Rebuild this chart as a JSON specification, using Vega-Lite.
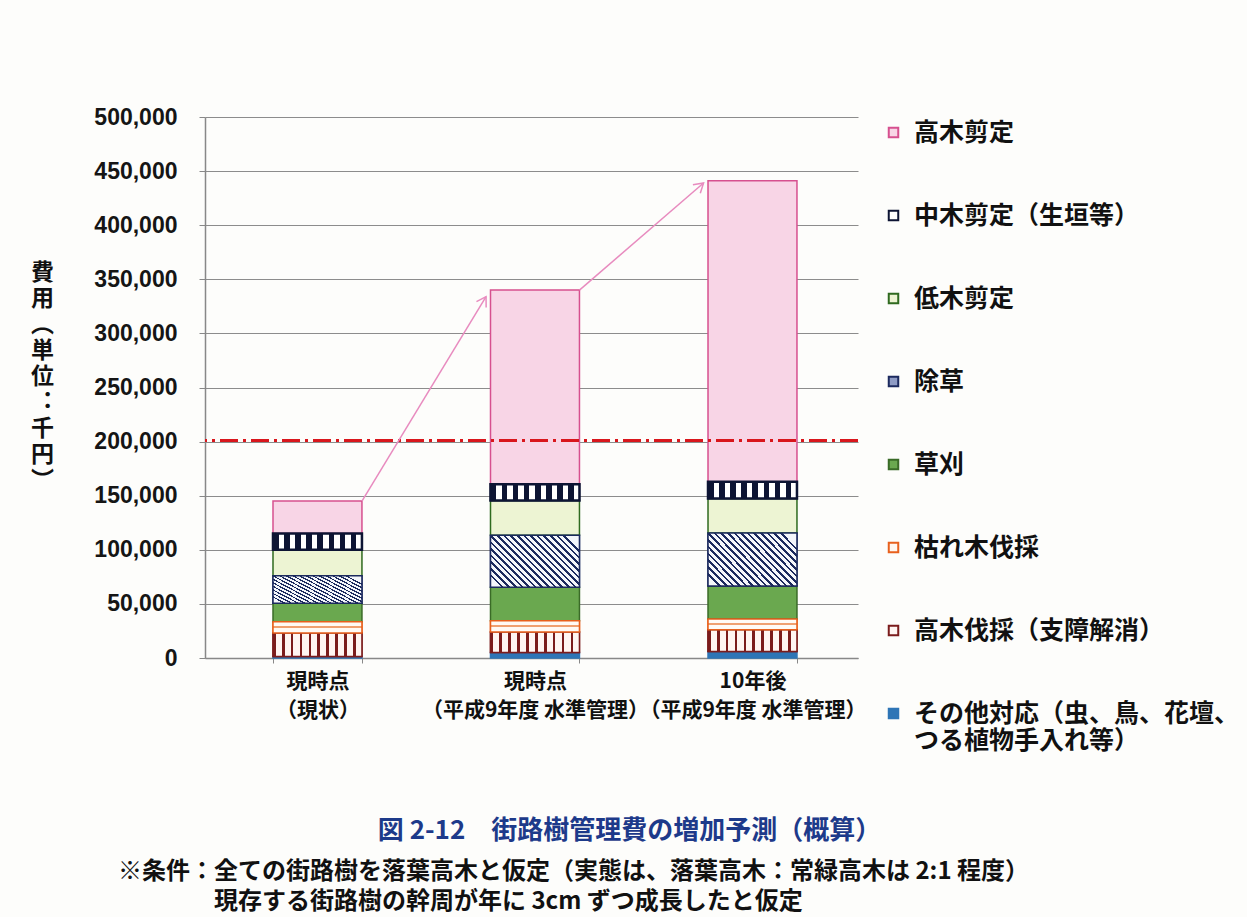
{
  "$schema": "https://vega.github.io/schema/vega-lite/v6.json",
  "width": 653,
  "height": 541,
  "autosize": {"type": "none"},
  "padding": {"left": 205, "top": 117, "right": 389, "bottom": 259},
  "background": "#fdfdfb",
  "config": {"view": {"stroke": null}},
  "title": {
    "text": ["※条件：全ての街路樹を落葉高木と仮定（実態は、落葉高木：常緑高木は 2:1 程度）", "\u200b　　　　現存する街路樹の幹周が年に 3cm ずつ成長したと仮定"],
    "orient": "bottom",
    "anchor": "start",
    "frame": "group",
    "dx": -87,
    "offset": 17,
    "font": "Noto Sans CJK JP",
    "fontSize": 24,
    "fontWeight": "bold",
    "color": "#111111",
    "lineHeight": 30,
    "baseline": "top"
  },
  "datasets": {
    "bars": [
      {"period": "現時点（現状）", "category": "その他対応（虫、鳥、花壇、つる植物手入れ等）", "order": 1, "value": 1500},
      {"period": "現時点（現状）", "category": "高木伐採（支障解消）", "order": 2, "value": 21500},
      {"period": "現時点（現状）", "category": "枯れ木伐採", "order": 3, "value": 10500},
      {"period": "現時点（現状）", "category": "草刈", "order": 4, "value": 17000},
      {"period": "現時点（現状）", "category": "除草", "order": 5, "value": 25500},
      {"period": "現時点（現状）", "category": "低木剪定", "order": 6, "value": 24000},
      {"period": "現時点（現状）", "category": "中木剪定（生垣等）", "order": 7, "value": 15000},
      {"period": "現時点（現状）", "category": "高木剪定", "order": 8, "value": 30000},
      {"period": "現時点（平成9年度 水準管理）", "category": "その他対応（虫、鳥、花壇、つる植物手入れ等）", "order": 1, "value": 5000},
      {"period": "現時点（平成9年度 水準管理）", "category": "高木伐採（支障解消）", "order": 2, "value": 19000},
      {"period": "現時点（平成9年度 水準管理）", "category": "枯れ木伐採", "order": 3, "value": 10500},
      {"period": "現時点（平成9年度 水準管理）", "category": "草刈", "order": 4, "value": 31000},
      {"period": "現時点（平成9年度 水準管理）", "category": "除草", "order": 5, "value": 48000},
      {"period": "現時点（平成9年度 水準管理）", "category": "低木剪定", "order": 6, "value": 32000},
      {"period": "現時点（平成9年度 水準管理）", "category": "中木剪定（生垣等）", "order": 7, "value": 15000},
      {"period": "現時点（平成9年度 水準管理）", "category": "高木剪定", "order": 8, "value": 179500},
      {"period": "10年後（平成9年度 水準管理）", "category": "その他対応（虫、鳥、花壇、つる植物手入れ等）", "order": 1, "value": 6000},
      {"period": "10年後（平成9年度 水準管理）", "category": "高木伐採（支障解消）", "order": 2, "value": 20000},
      {"period": "10年後（平成9年度 水準管理）", "category": "枯れ木伐採", "order": 3, "value": 10000},
      {"period": "10年後（平成9年度 水準管理）", "category": "草刈", "order": 4, "value": 30500},
      {"period": "10年後（平成9年度 水準管理）", "category": "除草", "order": 5, "value": 49000},
      {"period": "10年後（平成9年度 水準管理）", "category": "低木剪定", "order": 6, "value": 32000},
      {"period": "10年後（平成9年度 水準管理）", "category": "中木剪定（生垣等）", "order": 7, "value": 15500},
      {"period": "10年後（平成9年度 水準管理）", "category": "高木剪定", "order": 8, "value": 278000}
    ],
    "ref": [{"ref": 201000}],
    "arrows": [
      {"from": "現時点（現状）", "to": "現時点（平成9年度 水準管理）", "y_start": 145000, "y_end": 334000},
      {"from": "現時点（平成9年度 水準管理）", "to": "10年後（平成9年度 水準管理）", "y_start": 340000, "y_end": 439000}
    ]
  },
  "layer": [
    {
      "data": {"name": "bars"},
      "transform": [
        {"stack": "value", "groupby": ["period"], "sort": [{"field": "order", "order": "ascending"}], "as": ["v0", "v1"]}
      ],
      "layer": [
        {
          "mark": {"type": "bar", "strokeWidth": 1.5},
          "encoding": {
            "x": {
              "field": "period", "type": "nominal", "sort": null,
              "title": "図 2-12　街路樹管理費の増加予測（概算）",
              "scale": {"domain": ["現時点（現状）", "現時点（平成9年度 水準管理）", "10年後（平成9年度 水準管理）"], "paddingInner": 0.591, "paddingOuter": 0.2966, "align": 0.527},
              "axis": {
                "titleFont": "Noto Sans CJK JP", "titleFontSize": 26, "titleFontWeight": "bold", "titleColor": "#1d3a8a",
                "titleX": 424, "titleY": 172, "titleAlign": "center", "titleBaseline": "middle",
                "labelAngle": 0, "labelFont": "Noto Sans CJK JP", "labelFontSize": 21, "labelFontWeight": "bold", "labelColor": "#111111",
                "labelLineHeight": 29, "labelPadding": 7, "labelLimit": 400,
                "labelExpr": "split(replace(datum.label, '（', '\\n（'), '\\n')",
                "tickBand": "extent", "tickSize": 5, "tickColor": "#888888", "domainColor": "#888888", "domainWidth": 1.5
              }
            },
            "y": {
              "field": "v1", "type": "quantitative",
              "title": ["費", "用", "︵", "単", "位", "︓", "千", "円", "︶"],
              "scale": {"domain": [0, 500000], "nice": false},
              "axis": {
                "titleAngle": 0, "titleX": -163, "titleY": 155, "titleAlign": "center", "titleBaseline": "middle",
                "titleFont": "Noto Sans CJK JP", "titleFontSize": 23, "titleFontWeight": "bold", "titleLineHeight": 26, "titleColor": "#111111",
                "values": [0, 50000, 100000, 150000, 200000, 250000, 300000, 350000, 400000, 450000, 500000],
                "labelExpr": "format(datum.value, ',')",
                "labelFont": "Liberation Sans", "labelFontSize": 23, "labelFontWeight": "bold", "labelColor": "#151515", "labelPadding": 22,
                "tickSize": 6, "tickColor": "#888888", "domainColor": "#888888", "domainWidth": 1.5,
                "grid": true, "gridColor": "#8c8c8c", "gridWidth": 1.2
              }
            },
            "y2": {"field": "v0"},
            "fill": {
              "field": "category", "type": "nominal",
              "scale": {
                "domain": ["高木剪定", "中木剪定（生垣等）", "低木剪定", "除草", "草刈", "枯れ木伐採", "高木伐採（支障解消）", "その他対応（虫、鳥、花壇、つる植物手入れ等）"],
                "range": ["#f8d5e6", "#ffffff", "#edf4d3", "#8e9bc4", "#6aa84f", "#fff6ef", "#fff5f2", "#2e75b6"]
              },
              "legend": {
                "title": null, "orient": "none", "legendX": 676, "legendY": 3, "direction": "vertical",
                "symbolType": "square", "symbolSize": 90, "symbolStrokeWidth": 2,
                "labelFont": "Noto Sans CJK JP", "labelFontSize": 25, "labelFontWeight": "bold", "labelColor": "#111111",
                "labelLimit": 500, "rowPadding": 57, "labelOffset": 8, "padding": 0,
                "labelExpr": "datum.label == 'その他対応（虫、鳥、花壇、つる植物手入れ等）' ? ['その他対応（虫、鳥、花壇、', 'つる植物手入れ等）'] : datum.label"
              }
            },
            "stroke": {
              "field": "category", "type": "nominal",
              "scale": {
                "domain": ["高木剪定", "中木剪定（生垣等）", "低木剪定", "除草", "草刈", "枯れ木伐採", "高木伐採（支障解消）", "その他対応（虫、鳥、花壇、つる植物手入れ等）"],
                "range": ["#d6508f", "#0d1433", "#2f6a1f", "#1c2a5e", "#3a6b27", "#e8601c", "#7b1c1c", "#2e75b6"]
              },
              "legend": {
                "title": null, "orient": "none", "legendX": 676, "legendY": 3, "direction": "vertical",
                "symbolType": "square", "symbolSize": 90, "symbolStrokeWidth": 2,
                "labelFont": "Noto Sans CJK JP", "labelFontSize": 25, "labelFontWeight": "bold", "labelColor": "#111111",
                "labelLimit": 500, "rowPadding": 57, "labelOffset": 8, "padding": 0,
                "labelExpr": "datum.label == 'その他対応（虫、鳥、花壇、つる植物手入れ等）' ? ['その他対応（虫、鳥、花壇、', 'つる植物手入れ等）'] : datum.label"
              }
            }
          }
        },
        {
          "transform": [{"filter": "datum.category === '高木伐採（支障解消）'"}],
          "mark": {
            "type": "bar", "stroke": "#7b1c1c", "strokeWidth": 1.5,
            "fill": {"gradient": "linear", "x1": 0, "y1": 0, "x2": 1, "y2": 0, "stops": [
              {"offset": 0, "color": "#7b1c1c"}, {"offset": 0.03, "color": "#7b1c1c"}, {"offset": 0.03, "color": "#fff5f2"}, {"offset": 0.1, "color": "#fff5f2"},
              {"offset": 0.1, "color": "#7b1c1c"}, {"offset": 0.13, "color": "#7b1c1c"}, {"offset": 0.13, "color": "#fff5f2"}, {"offset": 0.2, "color": "#fff5f2"},
              {"offset": 0.2, "color": "#7b1c1c"}, {"offset": 0.23, "color": "#7b1c1c"}, {"offset": 0.23, "color": "#fff5f2"}, {"offset": 0.3, "color": "#fff5f2"},
              {"offset": 0.3, "color": "#7b1c1c"}, {"offset": 0.33, "color": "#7b1c1c"}, {"offset": 0.33, "color": "#fff5f2"}, {"offset": 0.4, "color": "#fff5f2"},
              {"offset": 0.4, "color": "#7b1c1c"}, {"offset": 0.43, "color": "#7b1c1c"}, {"offset": 0.43, "color": "#fff5f2"}, {"offset": 0.5, "color": "#fff5f2"},
              {"offset": 0.5, "color": "#7b1c1c"}, {"offset": 0.53, "color": "#7b1c1c"}, {"offset": 0.53, "color": "#fff5f2"}, {"offset": 0.6, "color": "#fff5f2"},
              {"offset": 0.6, "color": "#7b1c1c"}, {"offset": 0.63, "color": "#7b1c1c"}, {"offset": 0.63, "color": "#fff5f2"}, {"offset": 0.7, "color": "#fff5f2"},
              {"offset": 0.7, "color": "#7b1c1c"}, {"offset": 0.73, "color": "#7b1c1c"}, {"offset": 0.73, "color": "#fff5f2"}, {"offset": 0.8, "color": "#fff5f2"},
              {"offset": 0.8, "color": "#7b1c1c"}, {"offset": 0.83, "color": "#7b1c1c"}, {"offset": 0.83, "color": "#fff5f2"}, {"offset": 0.9, "color": "#fff5f2"},
              {"offset": 0.9, "color": "#7b1c1c"}, {"offset": 0.93, "color": "#7b1c1c"}, {"offset": 0.93, "color": "#fff5f2"}, {"offset": 1, "color": "#fff5f2"}
            ]}
          },
          "encoding": {
            "x": {"field": "period", "type": "nominal", "sort": null},
            "y": {"field": "v1", "type": "quantitative"},
            "y2": {"field": "v0"}
          }
        },
        {
          "transform": [{"filter": "datum.category === '枯れ木伐採'"}],
          "mark": {
            "type": "bar", "stroke": "#e8601c", "strokeWidth": 1.5,
            "fill": {"gradient": "linear", "x1": 0, "y1": 0, "x2": 0, "y2": 1, "stops": [
              {"offset": 0, "color": "#fffaf5"}, {"offset": 0.38, "color": "#fffaf5"}, {"offset": 0.38, "color": "#f0a070"},
              {"offset": 0.58, "color": "#f0a070"}, {"offset": 0.58, "color": "#fffaf5"}, {"offset": 1, "color": "#fffaf5"}
            ]}
          },
          "encoding": {
            "x": {"field": "period", "type": "nominal", "sort": null},
            "y": {"field": "v1", "type": "quantitative"},
            "y2": {"field": "v0"}
          }
        },
        {
          "transform": [{"filter": "datum.category === '除草'"}],
          "mark": {
            "type": "bar", "stroke": "#1c2a5e", "strokeWidth": 1.5,
            "fill": {"gradient": "linear", "x1": 0, "y1": 0.792, "x2": 1, "y2": 0.208, "stops": [
              {"offset": 0, "color": "#f4f6fb"},
              {"offset": 0, "color": "#1c2a5e"}, {"offset": 0.022, "color": "#1c2a5e"}, {"offset": 0.022, "color": "#f4f6fb"}, {"offset": 0.0556, "color": "#f4f6fb"},
              {"offset": 0.0556, "color": "#1c2a5e"}, {"offset": 0.0776, "color": "#1c2a5e"}, {"offset": 0.0776, "color": "#f4f6fb"}, {"offset": 0.1111, "color": "#f4f6fb"},
              {"offset": 0.1111, "color": "#1c2a5e"}, {"offset": 0.1331, "color": "#1c2a5e"}, {"offset": 0.1331, "color": "#f4f6fb"}, {"offset": 0.1667, "color": "#f4f6fb"},
              {"offset": 0.1667, "color": "#1c2a5e"}, {"offset": 0.1887, "color": "#1c2a5e"}, {"offset": 0.1887, "color": "#f4f6fb"}, {"offset": 0.2222, "color": "#f4f6fb"},
              {"offset": 0.2222, "color": "#1c2a5e"}, {"offset": 0.2442, "color": "#1c2a5e"}, {"offset": 0.2442, "color": "#f4f6fb"}, {"offset": 0.2778, "color": "#f4f6fb"},
              {"offset": 0.2778, "color": "#1c2a5e"}, {"offset": 0.2998, "color": "#1c2a5e"}, {"offset": 0.2998, "color": "#f4f6fb"}, {"offset": 0.3333, "color": "#f4f6fb"},
              {"offset": 0.3333, "color": "#1c2a5e"}, {"offset": 0.3553, "color": "#1c2a5e"}, {"offset": 0.3553, "color": "#f4f6fb"}, {"offset": 0.3889, "color": "#f4f6fb"},
              {"offset": 0.3889, "color": "#1c2a5e"}, {"offset": 0.4109, "color": "#1c2a5e"}, {"offset": 0.4109, "color": "#f4f6fb"}, {"offset": 0.4444, "color": "#f4f6fb"},
              {"offset": 0.4444, "color": "#1c2a5e"}, {"offset": 0.4664, "color": "#1c2a5e"}, {"offset": 0.4664, "color": "#f4f6fb"}, {"offset": 0.5, "color": "#f4f6fb"},
              {"offset": 0.5, "color": "#1c2a5e"}, {"offset": 0.522, "color": "#1c2a5e"}, {"offset": 0.522, "color": "#f4f6fb"}, {"offset": 0.5556, "color": "#f4f6fb"},
              {"offset": 0.5556, "color": "#1c2a5e"}, {"offset": 0.5776, "color": "#1c2a5e"}, {"offset": 0.5776, "color": "#f4f6fb"}, {"offset": 0.6111, "color": "#f4f6fb"},
              {"offset": 0.6111, "color": "#1c2a5e"}, {"offset": 0.6331, "color": "#1c2a5e"}, {"offset": 0.6331, "color": "#f4f6fb"}, {"offset": 0.6667, "color": "#f4f6fb"},
              {"offset": 0.6667, "color": "#1c2a5e"}, {"offset": 0.6887, "color": "#1c2a5e"}, {"offset": 0.6887, "color": "#f4f6fb"}, {"offset": 0.7222, "color": "#f4f6fb"},
              {"offset": 0.7222, "color": "#1c2a5e"}, {"offset": 0.7442, "color": "#1c2a5e"}, {"offset": 0.7442, "color": "#f4f6fb"}, {"offset": 0.7778, "color": "#f4f6fb"},
              {"offset": 0.7778, "color": "#1c2a5e"}, {"offset": 0.7998, "color": "#1c2a5e"}, {"offset": 0.7998, "color": "#f4f6fb"}, {"offset": 0.8333, "color": "#f4f6fb"},
              {"offset": 0.8333, "color": "#1c2a5e"}, {"offset": 0.8553, "color": "#1c2a5e"}, {"offset": 0.8553, "color": "#f4f6fb"}, {"offset": 0.8889, "color": "#f4f6fb"},
              {"offset": 0.8889, "color": "#1c2a5e"}, {"offset": 0.9109, "color": "#1c2a5e"}, {"offset": 0.9109, "color": "#f4f6fb"}, {"offset": 0.9444, "color": "#f4f6fb"},
              {"offset": 0.9444, "color": "#1c2a5e"}, {"offset": 0.9664, "color": "#1c2a5e"}, {"offset": 0.9664, "color": "#f4f6fb"}, {"offset": 1, "color": "#f4f6fb"}
            ]}
          },
          "encoding": {
            "x": {"field": "period", "type": "nominal", "sort": null},
            "y": {"field": "v1", "type": "quantitative"},
            "y2": {"field": "v0"}
          }
        },
        {
          "transform": [{"filter": "datum.category === '中木剪定（生垣等）'"}],
          "mark": {
            "type": "bar", "stroke": "#0d1433", "strokeWidth": 2.5,
            "fill": {"gradient": "linear", "x1": 0, "y1": 0, "x2": 1, "y2": 0, "stops": [
              {"offset": 0, "color": "#0d1433"}, {"offset": 0.0625, "color": "#0d1433"}, {"offset": 0.0625, "color": "#ffffff"}, {"offset": 0.125, "color": "#ffffff"},
              {"offset": 0.125, "color": "#0d1433"}, {"offset": 0.1875, "color": "#0d1433"}, {"offset": 0.1875, "color": "#ffffff"}, {"offset": 0.25, "color": "#ffffff"},
              {"offset": 0.25, "color": "#0d1433"}, {"offset": 0.3125, "color": "#0d1433"}, {"offset": 0.3125, "color": "#ffffff"}, {"offset": 0.375, "color": "#ffffff"},
              {"offset": 0.375, "color": "#0d1433"}, {"offset": 0.4375, "color": "#0d1433"}, {"offset": 0.4375, "color": "#ffffff"}, {"offset": 0.5, "color": "#ffffff"},
              {"offset": 0.5, "color": "#0d1433"}, {"offset": 0.5625, "color": "#0d1433"}, {"offset": 0.5625, "color": "#ffffff"}, {"offset": 0.625, "color": "#ffffff"},
              {"offset": 0.625, "color": "#0d1433"}, {"offset": 0.6875, "color": "#0d1433"}, {"offset": 0.6875, "color": "#ffffff"}, {"offset": 0.75, "color": "#ffffff"},
              {"offset": 0.75, "color": "#0d1433"}, {"offset": 0.8125, "color": "#0d1433"}, {"offset": 0.8125, "color": "#ffffff"}, {"offset": 0.875, "color": "#ffffff"},
              {"offset": 0.875, "color": "#0d1433"}, {"offset": 0.9375, "color": "#0d1433"}, {"offset": 0.9375, "color": "#ffffff"}, {"offset": 1, "color": "#ffffff"}
            ]}
          },
          "encoding": {
            "x": {"field": "period", "type": "nominal", "sort": null},
            "y": {"field": "v1", "type": "quantitative"},
            "y2": {"field": "v0"}
          }
        }
      ]
    },
    {
      "data": {"name": "ref"},
      "mark": {"type": "rule", "color": "#d9161c", "strokeWidth": 3, "strokeDash": [18, 5, 3, 5]},
      "encoding": {"y": {"field": "ref", "type": "quantitative"}}
    },
    {
      "data": {"name": "arrows"},
      "mark": {"type": "rule", "color": "#e88bbf", "strokeWidth": 1.5},
      "encoding": {
        "x": {"field": "from", "type": "nominal", "sort": null, "bandPosition": 1},
        "x2": {"field": "to", "bandPosition": -0.05},
        "y": {"field": "y_start", "type": "quantitative"},
        "y2": {"field": "y_end"}
      }
    },
    {
      "data": {"name": "arrows"},
      "transform": [{"filter": "datum.to === '現時点（平成9年度 水準管理）'"}],
      "mark": {"type": "point", "shape": "M -0.55 0.9 L 0 0 L 0.55 0.9", "filled": false, "color": "#e88bbf", "strokeWidth": 1.5, "size": 420, "angle": 31, "opacity": 1},
      "encoding": {
        "x": {"field": "to", "type": "nominal", "sort": null, "bandPosition": -0.05},
        "y": {"field": "y_end", "type": "quantitative"}
      }
    },
    {
      "data": {"name": "arrows"},
      "transform": [{"filter": "datum.to === '10年後（平成9年度 水準管理）'"}],
      "mark": {"type": "point", "shape": "M -0.55 0.9 L 0 0 L 0.55 0.9", "filled": false, "color": "#e88bbf", "strokeWidth": 1.5, "size": 420, "angle": 49, "opacity": 1},
      "encoding": {
        "x": {"field": "to", "type": "nominal", "sort": null, "bandPosition": -0.05},
        "y": {"field": "y_end", "type": "quantitative"}
      }
    }
  ]
}
